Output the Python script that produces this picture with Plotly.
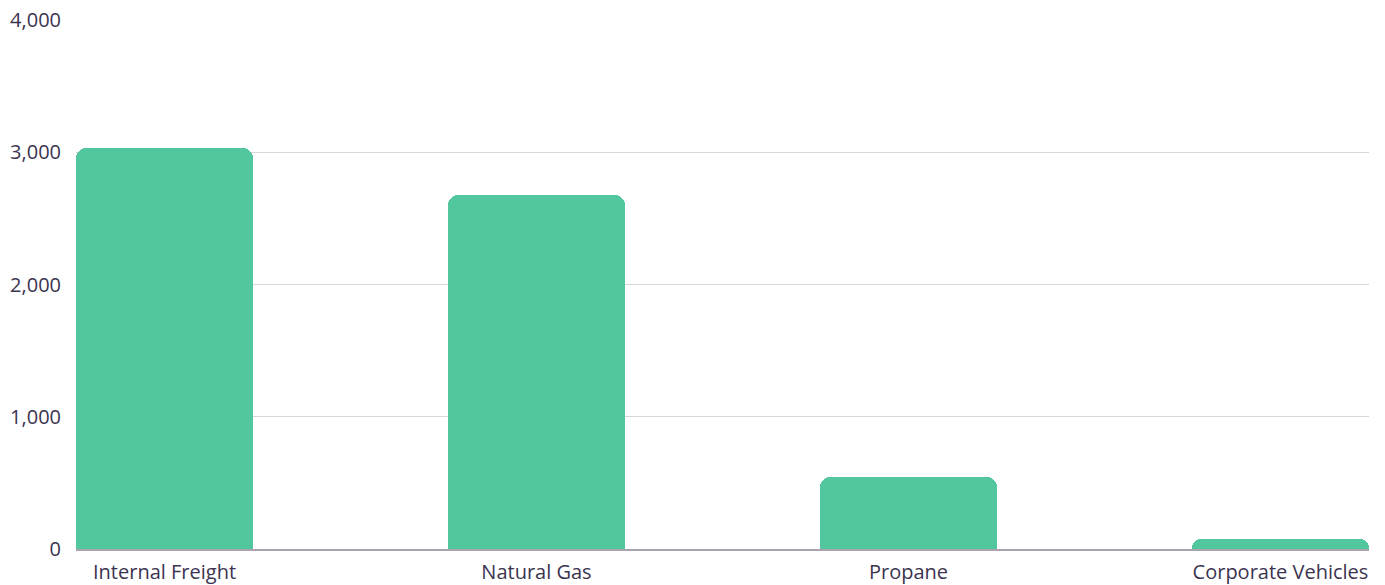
import plotly.graph_objects as go

# Emissions by source
categories = ["Internal Freight", "Natural Gas", "Propane", "Corporate Vehicles"]
values = [3032, 2675, 547, 73]

tick_vals = [0, 1000, 2000, 3000, 4000]
tick_text = ["0", "1,000", "2,000", "3,000", "4,000"]

BAR_COLOR = "#52c79e"
TEXT_COLOR = "#3b3450"
GRID_COLOR = "#d6d4dc"
AXIS_COLOR = "#a9a4b0"

fig = go.Figure(
    go.Bar(
        x=categories,
        y=values,
        marker=dict(color=BAR_COLOR, line=dict(width=0), cornerradius=10),
        width=0.476,
        hoverinfo="x+y",
    )
)

fig.update_layout(
    width=1385,
    height=585,
    margin=dict(l=76, r=16, t=20, b=36, autoexpand=False),
    paper_bgcolor="white",
    plot_bgcolor="white",
    showlegend=False,
    font=dict(family="Open Sans", size=20, color=TEXT_COLOR),
    bargap=0,
)

fig.update_xaxes(
    range=[-0.238, 3.238],
    showgrid=False,
    showline=True,
    linecolor=AXIS_COLOR,
    linewidth=1.5,
    ticks="",
    ticklabelstandoff=4,
    automargin=False,
)

fig.update_yaxes(
    range=[0, 4000],
    tickvals=tick_vals,
    ticktext=tick_text,
    showgrid=True,
    gridcolor=GRID_COLOR,
    gridwidth=1,
    zeroline=False,
    showline=False,
    ticks="",
    ticklabelstandoff=14,
    automargin=False,
)

fig.write_html("out.html")
